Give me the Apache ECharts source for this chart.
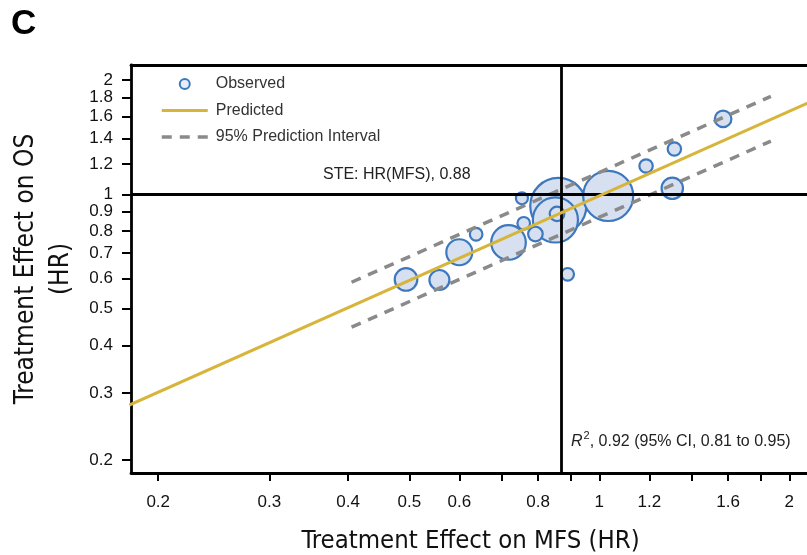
<!DOCTYPE html>
<html>
<head>
<meta charset="utf-8">
<script src="https://cdn.jsdelivr.net/npm/echarts@6/dist/echarts.min.js"></script>
<style>
  html, body { margin: 0; padding: 0; background: #fff; }
  #chart { width: 807px; height: 555px; }
</style>
</head>
<body>
<div id="chart"></div>
<script>
// Trial-level hazard ratios: metastasis-free survival (x) vs overall survival (y)
const mfsHR = [1.571, 1.315, 1.186, 1.305, 1.033, 0.861, 0.852, 0.857, 0.754, 0.759, 0.792, 0.718, 0.638, 0.600, 0.558, 0.494, 0.891];
const osHR  = [1.579, 1.316, 1.187, 1.037, 0.990, 0.932, 0.856, 0.888, 0.976, 0.839, 0.786, 0.747, 0.785, 0.704, 0.595, 0.597, 0.616];
// relative trial weight (bubble area)
const weight = [1.62, 1.11, 1.11, 2.57, 12.7, 15.8, 10.4, 1.29, 0.92, 1.0, 1.29, 6.28, 1.0, 3.68, 2.27, 2.84, 1.0];

// fitted regression line (log-log) and its 95% prediction band
const predX = [0.18, 2.2];
const predY = [0.279, 1.774];
const bandX = [0.405, 1.87];
const bandUpper = [0.587, 1.81];
const bandLower = [0.447, 1.38];

// surrogate threshold effect and the null line
const steMFS = 0.88;
const nullHR = 1;

const xTicks = [0.2, 0.3, 0.4, 0.5, 0.6, 0.7, 0.8, 0.9, 1, 1.2, 1.4, 1.6, 1.8, 2];
const xLabels = [0.2, 0.3, 0.4, 0.5, 0.6, 0.8, 1, 1.2, 1.6, 2];
const yTicks = [0.2, 0.3, 0.4, 0.5, 0.6, 0.7, 0.8, 0.9, 1, 1.2, 1.4, 1.6, 1.8, 2];
const yLabels = [0.2, 0.3, 0.4, 0.5, 0.6, 0.7, 0.8, 0.9, 1, 1.2, 1.4, 1.6, 1.8, 2];

const xRange = [0.1811, 2.157];
const yRange = [0.1848, 2.189];

const lg = Math.log10;
const fmt = v => String(+Math.pow(10, v).toFixed(1));

const SANS = "'Liberation Sans', Arial, sans-serif";
const NARROW = "'Liberation Sans Narrow', 'Arial Narrow', 'DejaVu Sans Condensed', sans-serif";
const FILL = '#d6e0f1';
const EDGE = '#3d78be';
const GOLD = '#d6b53a';
const GREY = '#8a8a8a';

const bubbles = mfsHR.map((x, i) => [lg(x), lg(osHR[i]), weight[i]])
  .sort((a, b) => b[2] - a[2]);

const pairs = (xs, ys) => xs.map((x, i) => [lg(x), lg(ys[i])]);

const axisCommon = {
  type: 'value',
  axisLine: { show: true, onZero: false, lineStyle: { color: '#000', width: 2.8 } },
  splitLine: { show: false }
};

const chart = echarts.init(document.getElementById('chart'), null, { renderer: 'canvas' });
chart.setOption({
  animation: false,
  backgroundColor: '#fff',
  grid: { left: 131, top: 65, width: 679, height: 408, containLabel: false, outerBoundsMode: 'none' },
  legend: {
    orient: 'vertical',
    left: 160,
    top: 76,
    padding: 0,
    itemWidth: 46,
    itemHeight: 10,
    itemGap: 10.5,
    selectedMode: false,
    textStyle: { fontFamily: SANS, fontSize: 16, color: '#333', lineHeight: 16, padding: [0, 0, 0, 3] },
    data: [
      { name: 'Observed', icon: 'circle', itemStyle: { color: '#e6edf8', borderColor: EDGE, borderWidth: 2 } },
      { name: 'Predicted', itemStyle: { opacity: 0 }, lineStyle: { color: GOLD, width: 3 } },
      { name: '95% Prediction Interval', itemStyle: { opacity: 0 }, lineStyle: { color: GREY, width: 3.5, type: [10, 8] } }
    ]
  },
  xAxis: [
    Object.assign({}, axisCommon, {
      position: 'bottom',
      min: lg(xRange[0]),
      max: lg(xRange[1]),
      name: 'Treatment Effect on MFS (HR)',
      nameLocation: 'middle',
      nameGap: 55,
      nameTextStyle: { fontFamily: NARROW, fontSize: 25.5, color: '#111' },
      axisTick: { show: true, length: 8, lineStyle: { color: '#000', width: 2 }, customValues: xTicks.map(lg) },
      axisLabel: { customValues: xLabels.map(lg), formatter: fmt, margin: 21, fontFamily: SANS, fontSize: 17, color: '#111' }
    }),
    Object.assign({}, axisCommon, {
      position: 'top',
      min: lg(xRange[0]),
      max: lg(xRange[1]),
      axisTick: { show: false },
      axisLabel: { show: false }
    })
  ],
  yAxis: [
    Object.assign({}, axisCommon, {
      position: 'left',
      min: lg(yRange[0]),
      max: lg(yRange[1]),
      name: 'Treatment Effect on OS\n(HR)',
      nameLocation: 'middle',
      nameGap: 43,
      nameTextStyle: { fontFamily: NARROW, fontSize: 26, color: '#111', lineHeight: 35, align: 'center' },
      axisTick: { show: true, length: 9, lineStyle: { color: '#000', width: 2 }, customValues: yTicks.map(lg) },
      axisLabel: { customValues: yLabels.map(lg), formatter: fmt, margin: 18, fontFamily: SANS, fontSize: 17, color: '#111' }
    })
  ],
  graphic: [
    { type: 'text', left: 11, top: 7, style: { text: 'C', font: "bold 35px 'Liberation Sans', Arial, sans-serif", fill: '#000' } },
    { type: 'text', left: 323, top: 167, style: { text: 'STE: HR(MFS), 0.88', font: "16px 'Liberation Sans', Arial, sans-serif", fill: '#222' } },
    {
      type: 'text', left: 571, top: 430,
      style: {
        text: '{i|R}{s|2}{n|, 0.92 (95% CI, 0.81 to 0.95)}',
        fill: '#222',
        rich: {
          i: { fontFamily: SANS, fontStyle: 'italic', fontSize: 16, color: '#222' },
          s: { fontFamily: SANS, fontSize: 11, color: '#222', padding: [0, 0, 12, 1] },
          n: { fontFamily: SANS, fontSize: 16, color: '#222' }
        }
      }
    }
  ],
  series: [
    {
      name: 'Observed',
      type: 'scatter',
      z: 2,
      data: bubbles,
      symbolSize: v => 14.6 * Math.sqrt(v[2]) - 2,
      itemStyle: { color: FILL, borderColor: EDGE, borderWidth: 2.2, opacity: 1 }
    },
    {
      name: 'reference',
      type: 'line',
      z: 3,
      data: [],
      markLine: {
        silent: true,
        symbol: 'none',
        label: { show: false },
        lineStyle: { color: '#000', width: 2.8, type: 'solid' },
        data: [{ yAxis: lg(nullHR) }, { xAxis: lg(steMFS) }]
      }
    },
    {
      name: '95% Prediction Interval',
      type: 'line',
      z: 4,
      symbol: 'none',
      data: pairs(bandX, bandUpper),
      itemStyle: { color: GREY },
      lineStyle: { color: GREY, width: 3.5, type: [10, 8] }
    },
    {
      name: '95% Prediction Interval',
      type: 'line',
      z: 4,
      symbol: 'none',
      data: pairs(bandX, bandLower),
      itemStyle: { color: GREY },
      lineStyle: { color: GREY, width: 3.5, type: [10, 8] }
    },
    {
      name: 'Predicted',
      type: 'line',
      z: 5,
      symbol: 'none',
      data: pairs(predX, predY),
      itemStyle: { color: GOLD },
      lineStyle: { color: GOLD, width: 3 }
    }
  ]
});
</script>
</body>
</html>
